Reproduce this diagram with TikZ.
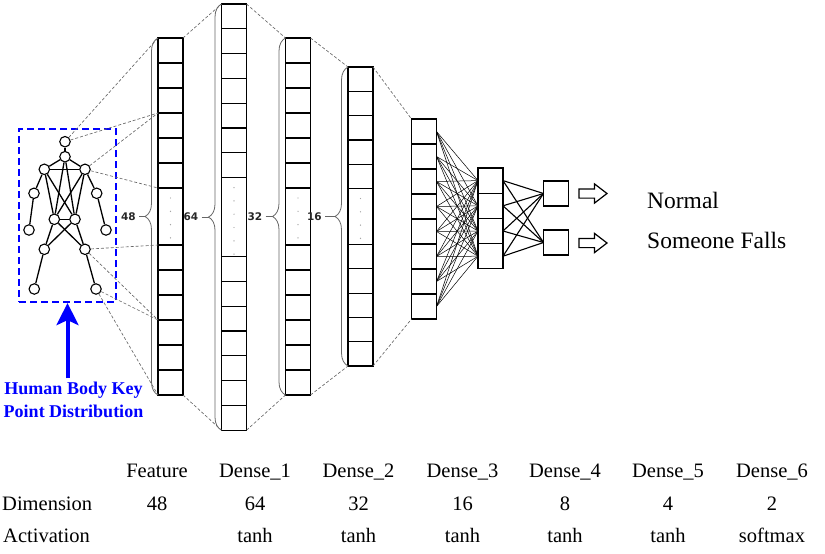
\documentclass[tikz,border=0pt]{standalone}
\usepackage{fontspec}
\setmainfont{Liberation Serif}
\newfontfamily\numfont{DejaVu Sans}
\usetikzlibrary{arrows.meta,decorations.pathreplacing,shapes.arrows,positioning}

\tikzset{
  cell/.style={draw, line width=1.2pt, minimum width=25pt, inner sep=0pt, outer sep=0pt},
  joint/.style={draw, circle, line width=1.1pt, minimum size=10.5pt, inner sep=0pt},
  bone/.style={line width=1.3pt},
  link/.style={black!60, line width=0.65pt, dash pattern=on 3pt off 2pt},
  brc/.style={decorate, decoration={brace, amplitude=13pt}, gray!80!black, line width=0.8pt},
  tick/.style={gray!80!black, line width=0.8pt},
  num/.style={font=\numfont\bfseries\fontsize{10.5}{12}\selectfont, text=black!85, inner sep=0pt},
  lbl/.style={font=\fontsize{20.5}{24}\selectfont, anchor=base, inner sep=0pt},
  outarrow/.style={single arrow, draw, line width=1.2pt, minimum height=28pt, inner sep=4pt,
    single arrow head extend=5pt, single arrow tip angle=75},
}

\begin{document}
\begin{tikzpicture}[x=1pt, y=-1pt]
  \useasboundingbox (0,0) rectangle (825,554);
  % key points
  \node[joint] (head) at (65,141.7) {};
  \node[joint] (neck) at (65,156.7) {};
  \node[joint] (lsh) at (44.3,169.3) {};
  \node[joint] (rsh) at (85,169.3) {};
  \node[joint] (lel) at (34,193.3) {};
  \node[joint] (rel) at (96.7,193.3) {};
  \node[joint] (lhd) at (29,230) {};
  \node[joint] (rhd) at (106,230) {};
  \node[joint] (lhp) at (54.3,219.3) {};
  \node[joint] (rhp) at (75,219.3) {};
  \node[joint] (lkn) at (44.3,249.3) {};
  \node[joint] (rkn) at (85,249.3) {};
  \node[joint] (lft) at (34.3,289) {};
  \node[joint] (rft) at (96,289) {};
  \foreach \u/\v in {head/neck, neck/lsh, neck/rsh, lsh/rsh, lsh/lel, lel/lhd, rsh/rel, rel/rhd,
    neck/lhp, neck/rhp, lsh/lhp, lsh/rhp, rsh/lhp, rsh/rhp, lhp/rhp,
    lhp/lkn, lhp/rkn, rhp/lkn, rhp/rkn, lkn/lft, rkn/rft}
    \draw[bone] (\u) -- (\v);
  \node[draw=blue, line width=2.2pt, dash pattern=on 7pt off 4pt, minimum width=97pt,
    minimum height=173pt] (kpbox) at (67.5,215.5) {};
  \node[font=\bfseries\fontsize{18}{23.5}\selectfont, text=blue, align=center] (kplbl)
    at (73.5,400) {Human Body Key\\Point Distribution};
  \draw[blue, line width=4pt, -{Stealth[length=22pt, width=22pt, inset=5pt]}]
    (kpbox.south |- kplbl.north) -- (kpbox.south);

  % dense columns with dots
  \foreach \ly/\cx/\ty/\nc/\ch/\dh/\nd in {a/170.5/38/6/25/57/4, b/234/4/7/24.8/79/6,
    c/298/38/6/25/57/4, d/360.5/67/5/24.3/56/4}{
    \foreach \i in {1,...,\nc}{
      \node[cell, minimum height=\ch*1pt] (\ly t\i) at (\cx, \ty+\ch*\i-\ch/2) {};
      \node[cell, minimum height=\ch*1pt] (\ly b\i) at (\cx, \ty+\nc*\ch+\dh+\ch*\i-\ch/2) {};
    }
    \node[cell, minimum height=\dh*1pt] (\ly m) at (\cx, \ty+\nc*\ch+\dh/2) {};
    \foreach \j in {1,...,\nd}
      \fill[gray!70] (\cx, \ty+\nc*\ch-3.3+13.3*\j) circle (0.7pt);
    \coordinate (\ly tip) at ([xshift=-13pt]\ly m.west);
  }
  \foreach \i in {1,...,8}
    \node[cell, minimum height=25pt] (e\i) at (424,106.5+25*\i) {};
  \foreach \i in {1,...,4}
    \node[cell, minimum height=25.2pt] (f\i) at (490.5,155.4+25.2*\i) {};
  \node[cell, minimum height=25pt] (g1) at (556,193.5) {};
  \node[cell, minimum height=25pt] (g2) at (556,242.5) {};

  % braces
  \draw[brc] (ab6.south west) -- (at1.north west);
  \draw[brc] (bb7.south west) -- (bt1.north west);
  \draw[brc] (cb6.south west) -- (ct1.north west);
  \draw[brc] (db5.south west) -- (dt1.north west);
  \node[num, left=22pt of am.west] (n48) {48};
  \node[num, left=23pt of bm.west] (n64) {64};
  \node[num, left=23pt of cm.west] (n32) {32};
  \node[num, left=26pt of dm.west] (n16) {16};
  \draw[tick] ([xshift=3pt]n48.east) -- (atip);
  \draw[tick] ([xshift=3pt]n64.east) -- (btip);
  \draw[tick] ([xshift=3pt]n32.east) -- (ctip);
  \draw[tick] ([xshift=3pt]n16.east) -- (dtip);

  % dashed links
  \draw[link] (head) -- (at1.north west);
  \draw[link] (head) -- (at3.south west);
  \draw[link] (rsh) -- (at3.south west);
  \draw[link] (rsh) -- (am.north west);
  \draw[link] (rkn) -- (am.south west);
  \draw[link] (rkn) -- (ab3.south west);
  \draw[link] (rft) -- (ab3.south west);
  \draw[link] (rft) -- (ab6.south west);
  \draw[link] (at1.north east) -- (bt1.north west);
  \draw[link] (bt1.north east) -- (ct1.north west);
  \draw[link] (ct1.north east) -- (dt1.north west);
  \draw[link] (dt1.north east) -- (e1.north west);
  \draw[link] (ab6.south east) -- (bb7.south west);
  \draw[link] (bb7.south east) -- (cb6.south west);
  \draw[link] (cb6.south east) -- (db5.south west);
  \draw[link] (db5.south east) -- (e8.south west);

  % full connections
  \foreach \i in {1,...,8}
    \foreach \j in {1,...,4}
      \draw[line width=0.5pt] (e\i.east) -- (f\j.west);
  \foreach \i in {1,...,4}
    \foreach \j in {1,2}
      \draw[line width=1.1pt] (f\i.east) -- (g\j.west);

  % outputs
  \node[outarrow] (r1) at (590,193.5) {};
  \node[outarrow] (r2) at (590,243) {};
  \node[anchor=base west, inner sep=0pt, font=\fontsize{23.5}{28}\selectfont] (normal) at (647,208) {Normal};
  \node[anchor=base west, inner sep=0pt, font=\fontsize{23.5}{28}\selectfont] (falls) at (647,248) {Someone Falls};

  % table
  \node[lbl] (hd0) at (157,477) {Feature};
  \node[lbl] (dim0) at (157,510) {48};
  \foreach \i/\cx/\dm/\ac in {1/255/64/tanh, 2/358.5/32/tanh, 3/462.5/16/tanh,
    4/565/8/tanh, 5/668/4/tanh, 6/772/2/softmax}{
    \node[lbl] (hd\i) at (\cx,477) {Dense\_\i};
    \node[lbl] (dim\i) at (\cx,510) {\dm};
    \node[lbl] (act\i) at (\cx,542) {\ac};
  }
  \node[lbl, anchor=base west] (dimrow) at (2,510) {Dimension};
  \node[lbl, anchor=base west] (actrow) at (3,542) {Activation};
\end{tikzpicture}
\end{document}
